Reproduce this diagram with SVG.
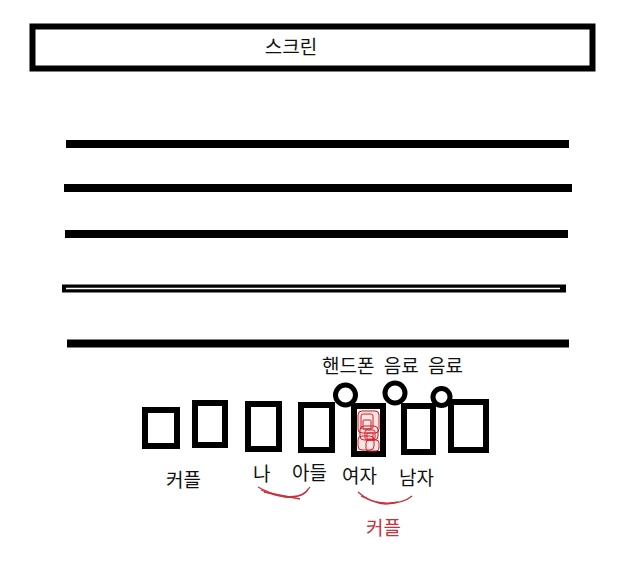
<svg xmlns="http://www.w3.org/2000/svg" width="637" height="577" viewBox="0 0 637 577">
<style>
.t{font-family:"Noto Sans CJK KR","Noto Sans",sans-serif;font-size:19px;fill:#111}
.r{fill:#c8323f}
.seat{fill:#fff;stroke:#000;stroke-width:6}
.cup{fill:#fff;stroke:#000;stroke-width:5}
.row{stroke:#000;stroke-width:8}
.sc{fill:none;stroke:#d21e28;stroke-width:1}
.cv{fill:none;stroke:#c8323f;stroke-width:1.3}
</style>
<rect width="637" height="577" fill="#fff"/>
<g id="screen">
<rect x="32.5" y="26.5" width="560" height="42" fill="#fff" stroke="#000" stroke-width="6"/>
<text class="t" x="291" y="54" text-anchor="middle" font-size="20">스크린</text>
</g>
<g id="rows">
<line class="row" x1="66" y1="144" x2="569" y2="144"/>
<line class="row" x1="64" y1="188" x2="572" y2="188"/>
<line class="row" x1="65" y1="234" x2="568" y2="234"/>
<line class="row" x1="62" y1="288.5" x2="566" y2="288.5" stroke-width="10"/>
<line x1="66" y1="288.5" x2="560" y2="288.5" stroke="#fff" stroke-width="1.6"/>
<line class="row" x1="67" y1="343.5" x2="569" y2="343.5"/>
</g>
<g id="seat1"><rect class="seat" x="145" y="410" width="32" height="36"/></g>
<g id="seat2"><rect class="seat" x="195" y="403" width="30" height="42"/></g>
<g id="seat3"><rect class="seat" x="248" y="404" width="31" height="45"/></g>
<g id="seat4"><rect class="seat" x="301" y="405" width="31" height="45"/></g>
<g id="seat5">
<rect class="seat" x="354" y="406" width="29" height="48"/>
<rect x="358" y="410" width="21" height="41" fill="#fbe6e6"/>
<rect class="sc" x="358" y="411" width="21" height="22" rx="4"/>
<rect class="sc" x="361" y="414" width="12" height="15" rx="2"/>
<rect class="sc" x="363" y="420" width="8" height="9" rx="1"/>
<rect class="sc" x="360" y="426" width="18" height="14" rx="4"/>
<rect class="sc" x="365" y="430" width="10" height="10" rx="2"/>
<rect class="sc" x="367" y="433" width="6" height="6" fill="#d21e28"/>
<rect class="sc" x="358" y="436" width="16" height="14" rx="4"/>
<rect class="sc" x="366" y="440" width="13" height="11" rx="3"/>
</g>
<g id="seat6"><rect class="seat" x="404" y="406" width="29" height="46"/></g>
<g id="seat7"><rect class="seat" x="451" y="402" width="35" height="48"/></g>
<g id="phone"><circle class="cup" cx="345.5" cy="395" r="10"/></g>
<g id="drink1"><circle class="cup" cx="395" cy="393" r="10"/></g>
<g id="drink2"><circle class="cup" cx="441.5" cy="397" r="8.5"/></g>
<g id="labels">
<text class="t" x="322" y="373" font-size="20" word-spacing="5">핸드폰 음료 음료</text>
<text class="t" x="166" y="487">커플</text>
<text class="t" x="253" y="481">나</text>
<text class="t" x="292" y="480">아들</text>
<text class="t" x="342" y="483">여자</text>
<text class="t" x="399" y="485">남자</text>
<text class="t r" x="366" y="535">커플</text>
</g>
<g id="connectors">
<path class="cv" d="M258 487 Q268 493 285 497 Q302 499 310 487"/>
<path class="cv" d="M261 490 Q280 499 298 496 Q306 494 308 489"/>
<path class="cv" d="M264 492 L300 499"/>
<path class="cv" d="M358 492 Q370 503 386 504 Q404 503 412 496"/>
<path class="cv" d="M361 496 Q380 506 398 502"/>
</g>
</svg>
